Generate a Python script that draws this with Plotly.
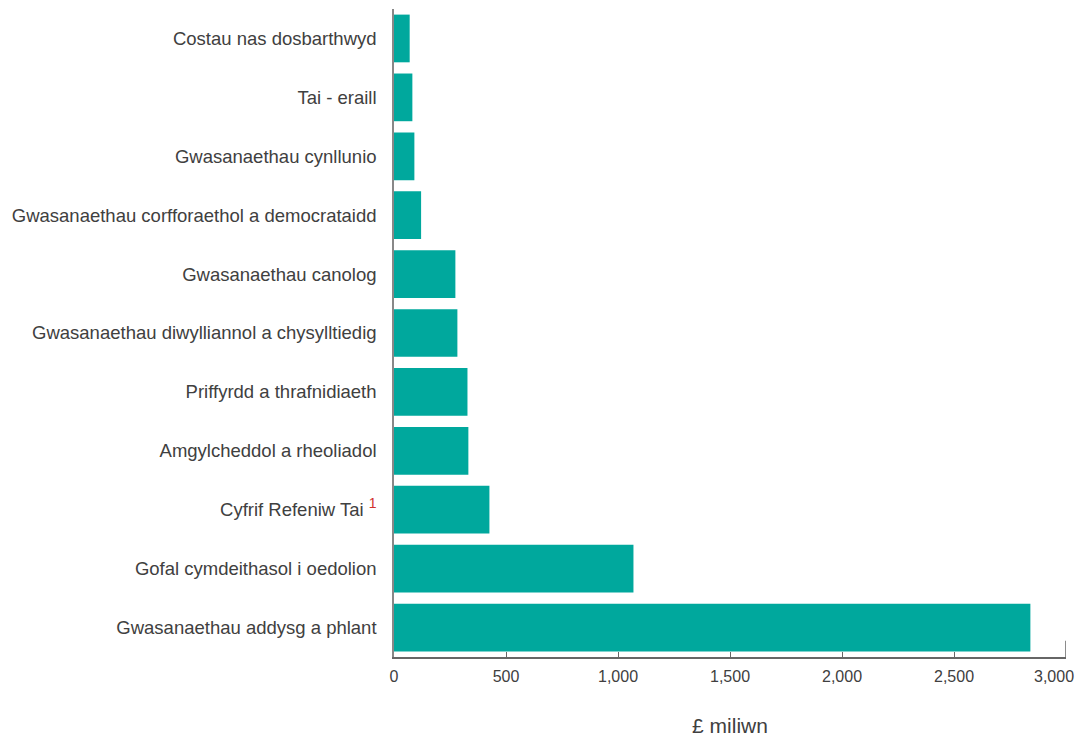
import plotly.graph_objects as go

categories = [
    "Costau nas dosbarthwyd",
    "Tai - eraill",
    "Gwasanaethau cynllunio",
    "Gwasanaethau corfforaethol a democrataidd",
    "Gwasanaethau canolog",
    "Gwasanaethau diwylliannol a chysylltiedig",
    "Priffyrdd a thrafnidiaeth",
    "Amgylcheddol a rheoliadol",
    "Cyfrif Refeniw Tai <sup><span style='color:#d0312d;font-size:14px'>1</span></sup>",
    "Gofal cymdeithasol i oedolion",
    "Gwasanaethau addysg a phlant",
]
values = [70, 82, 91, 121, 274, 283, 328, 332, 426, 1069, 2841]
tick_vals = [0, 500, 1000, 1500, 2000, 2500, 3000]
tick_text = ["0", "500", "1,000", "1,500", "2,000", "2,500", ""]
last_tick_label = "3,000"

fig = go.Figure(go.Bar(
    x=values,
    y=categories,
    orientation="h",
    marker=dict(color="#00A89D", line=dict(width=0)),
    hoverinfo="x+y",
))

fig.update_layout(
    width=1078,
    height=729,
    margin=dict(l=386, r=20, t=1, b=80),
    plot_bgcolor="white",
    paper_bgcolor="white",
    bargap=0.19,
    showlegend=False,
    font=dict(family="Liberation Sans, Arial, sans-serif", color="#404040"),
)

fig.update_xaxes(
    range=[0, 3000],
    tickvals=tick_vals,
    ticktext=tick_text,
    showgrid=False,
    zeroline=False,
    showline=True,
    linecolor="#666666",
    linewidth=1.5,
    ticks="inside",
    ticklen=5,
    tickcolor="#666666",
    tickfont=dict(size=16, color="#404040"),
    ticklabelstandoff=4,
    ticklabeloverflow="allow",
    automargin=False,
    title=dict(text="£ miliwn", font=dict(size=21, color="#404040"), standoff=36),
)

fig.update_yaxes(
    categoryorder="array",
    categoryarray=categories[::-1],
    showgrid=False,
    zeroline=False,
    showline=True,
    linecolor="#888888",
    linewidth=1.5,
    ticks="",
    ticklabelstandoff=12,
    automargin=False,
    tickfont=dict(size=18.5, color="#404040"),
)

fig.add_shape(type="line", xref="x", yref="paper", x0=tick_vals[-1], x1=tick_vals[-1], y0=0, y1=0.025,
              line=dict(color="#666666", width=1.5))

fig.add_annotation(
    x=tick_vals[-1], xref="x", y=0, yref="paper",
    text=last_tick_label, showarrow=False,
    xanchor="right", yanchor="top", xshift=10, yshift=-9,
    font=dict(size=16, color="#404040"),
)

fig.write_html("out.html")
